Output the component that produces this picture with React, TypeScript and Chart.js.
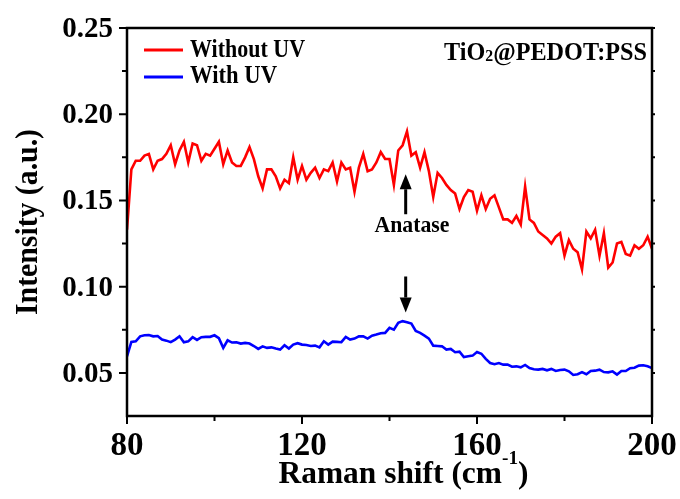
import React, { useEffect, useRef } from "react";
import { Chart, registerables } from "chart.js";

Chart.register(...registerables);

const ramanShift = [
  80, 81, 82, 83, 84, 85, 86, 87, 88, 89, 90, 91, 92, 93, 94, 95, 96, 97, 98, 99,
  100, 101, 102, 103, 104, 105, 106, 107, 108, 109, 110, 111, 112, 113, 114, 115, 116, 117, 118, 119,
  120, 121, 122, 123, 124, 125, 126, 127, 128, 129, 130, 131, 132, 133, 134, 135, 136, 137, 138, 139,
  140, 141, 142, 143, 144, 145, 146, 147, 148, 149, 150, 151, 152, 153, 154, 155, 156, 157, 158, 159,
  160, 161, 162, 163, 164, 165, 166, 167, 168, 169, 170, 171, 172, 173, 174, 175, 176, 177, 178, 179,
  180, 181, 182, 183, 184, 185, 186, 187, 188, 189, 190, 191, 192, 193, 194, 195, 196, 197, 198, 199,
  200,
];

const withoutUV = [
  0.133, 0.168, 0.173, 0.173, 0.176, 0.177, 0.168, 0.173, 0.174, 0.177,
  0.182, 0.171, 0.179, 0.184, 0.172, 0.183, 0.182, 0.173, 0.177, 0.176,
  0.180, 0.184, 0.171, 0.179, 0.172, 0.170, 0.170, 0.175, 0.181, 0.174,
  0.164, 0.157, 0.168, 0.168, 0.164, 0.157, 0.162, 0.160, 0.175, 0.162,
  0.170, 0.162, 0.166, 0.169, 0.163, 0.168, 0.167, 0.172, 0.161, 0.172,
  0.168, 0.169, 0.155, 0.169, 0.177, 0.167, 0.168, 0.172, 0.178, 0.174,
  0.174, 0.159, 0.179, 0.182, 0.190, 0.176, 0.178, 0.169, 0.178, 0.167,
  0.152, 0.166, 0.163, 0.159, 0.156, 0.154, 0.145, 0.152, 0.156, 0.155,
  0.144, 0.153, 0.145, 0.151, 0.153, 0.146, 0.139, 0.139, 0.137, 0.141,
  0.136, 0.158, 0.139, 0.137, 0.132, 0.130, 0.128, 0.125, 0.129, 0.131,
  0.118, 0.127, 0.122, 0.120, 0.110, 0.132, 0.128, 0.133, 0.118, 0.131,
  0.111, 0.114, 0.125, 0.126, 0.119, 0.118, 0.124, 0.122, 0.124, 0.129,
  0.122,
];

const withUV = [
  0.0596, 0.0680, 0.0683, 0.0712, 0.0718, 0.0720, 0.0712, 0.0714, 0.0693, 0.0687,
  0.0678, 0.0693, 0.0712, 0.0678, 0.0683, 0.0707, 0.0691, 0.0707, 0.0709, 0.0709,
  0.0718, 0.0701, 0.0645, 0.0689, 0.0676, 0.0678, 0.0670, 0.0674, 0.0670, 0.0656,
  0.0639, 0.0654, 0.0645, 0.0648, 0.0641, 0.0635, 0.0660, 0.0641, 0.0664, 0.0672,
  0.0664, 0.0662, 0.0656, 0.0658, 0.0648, 0.0683, 0.0664, 0.0681, 0.0680, 0.0678,
  0.0709, 0.0693, 0.0699, 0.0712, 0.0712, 0.0699, 0.0716, 0.0722, 0.0730, 0.0732,
  0.0761, 0.0751, 0.0790, 0.0800, 0.0794, 0.0786, 0.0743, 0.0732, 0.0716, 0.0699,
  0.0658, 0.0656, 0.0654, 0.0635, 0.0639, 0.0620, 0.0623, 0.0592, 0.0596, 0.0600,
  0.0621, 0.0611, 0.0581, 0.0557, 0.0550, 0.0557, 0.0548, 0.0548, 0.0536, 0.0538,
  0.0532, 0.0546, 0.0528, 0.0521, 0.0519, 0.0523, 0.0515, 0.0523, 0.0511, 0.0517,
  0.0519, 0.0509, 0.0488, 0.0492, 0.0504, 0.0492, 0.0511, 0.0513, 0.0519, 0.0505,
  0.0503, 0.0509, 0.0490, 0.0511, 0.0511, 0.0527, 0.0530, 0.0542, 0.0544, 0.0538,
  0.0528,
];

const xMajorTicks = [80, 120, 160, 200];
const xMinorTicks = [100, 140, 180];
const yMajorTicks = [0.05, 0.1, 0.15, 0.2, 0.25];
const yMinorTicks = [0.075, 0.125, 0.175, 0.225];
const yTickLabels = ["0.05", "0.10", "0.15", "0.20", "0.25"];
const seriesNames = ["Without UV", "With UV"];
const seriesColors = ["#ff0000", "#0000ff"];

const SERIF = '"Liberation Serif", "Times New Roman", serif';

type Part = { text: string; size: number; dy?: number };

function drawParts(
  ctx: CanvasRenderingContext2D,
  parts: Part[],
  x: number,
  y: number,
  targetWidth: number | null,
  align: "left" | "center" | "right"
) {
  ctx.save();
  ctx.textBaseline = "alphabetic";
  ctx.textAlign = "left";
  let natural = 0;
  const widths = parts.map((p) => {
    ctx.font = `bold ${p.size}px ${SERIF}`;
    const w = ctx.measureText(p.text).width;
    natural += w;
    return w;
  });
  const s = targetWidth ? targetWidth / natural : 1;
  const total = natural * s;
  let start = x;
  if (align === "center") start = x - total / 2;
  if (align === "right") start = x - total;
  ctx.translate(start, y);
  ctx.scale(s, 1);
  let cx = 0;
  parts.forEach((p, i) => {
    ctx.font = `bold ${p.size}px ${SERIF}`;
    ctx.fillText(p.text, cx, p.dy || 0);
    cx += widths[i];
  });
  ctx.restore();
}

function drawArrow(
  ctx: CanvasRenderingContext2D,
  x: number,
  yTail: number,
  yTip: number
) {
  const dir = yTip < yTail ? -1 : 1;
  const head = 15;
  ctx.save();
  ctx.strokeStyle = "#000";
  ctx.fillStyle = "#000";
  ctx.lineWidth = 3;
  ctx.beginPath();
  ctx.moveTo(x, yTail);
  ctx.lineTo(x, yTip - dir * head);
  ctx.stroke();
  ctx.beginPath();
  ctx.moveTo(x, yTip);
  ctx.lineTo(x - 6, yTip - dir * head);
  ctx.lineTo(x + 6, yTip - dir * head);
  ctx.closePath();
  ctx.fill();
  ctx.restore();
}

const decorPlugin = {
  id: "decor",
  afterDraw(chart: any) {
    const ctx: CanvasRenderingContext2D = chart.ctx;
    const { left, right, top, bottom } = chart.chartArea;
    const xs = chart.scales.x;
    const ys = chart.scales.y;
    ctx.save();
    // frame
    ctx.strokeStyle = "#000";
    ctx.lineWidth = 2.5;
    ctx.strokeRect(left, top, right - left, bottom - top);
    // ticks
    ctx.lineWidth = 2;
    ctx.beginPath();
    yMajorTicks.forEach((v) => {
      const py = ys.getPixelForValue(v);
      ctx.moveTo(left - 8, py);
      ctx.lineTo(left, py);
      ctx.moveTo(right, py);
      ctx.lineTo(right + 3, py);
    });
    yMinorTicks.forEach((v) => {
      const py = ys.getPixelForValue(v);
      ctx.moveTo(left - 5, py);
      ctx.lineTo(left, py);
      ctx.moveTo(right, py);
      ctx.lineTo(right + 3, py);
    });
    xMajorTicks.forEach((v) => {
      const px = xs.getPixelForValue(v);
      ctx.moveTo(px, bottom);
      ctx.lineTo(px, bottom + 8);
    });
    xMinorTicks.forEach((v) => {
      const px = xs.getPixelForValue(v);
      ctx.moveTo(px, bottom);
      ctx.lineTo(px, bottom + 5);
    });
    ctx.stroke();

    ctx.fillStyle = "#000";
    // y tick labels
    yMajorTicks.forEach((v, i) => {
      const py = ys.getPixelForValue(v);
      drawParts(ctx, [{ text: yTickLabels[i], size: 29 }], left - 14, py + 9, null, "right");
    });
    // x tick labels
    xMajorTicks.forEach((v) => {
      const px = xs.getPixelForValue(v);
      drawParts(ctx, [{ text: String(v), size: 33 }], px, bottom + 39, null, "center");
    });
    // x title
    drawParts(
      ctx,
      [
        { text: "Raman shift (cm", size: 31 },
        { text: "-1", size: 19, dy: -19 },
        { text: ")", size: 31 },
      ],
      (left + right) / 2 + 14,
      483,
      250,
      "center"
    );
    // y title
    ctx.save();
    ctx.translate(37, 222);
    ctx.rotate(-Math.PI / 2);
    drawParts(ctx, [{ text: "Intensity (a.u.)", size: 32 }], 0, 0, 186, "center");
    ctx.restore();

    // legend
    const legendY = [50, 77];
    const legendBase = [57, 83];
    const legendW = [115, 87];
    seriesNames.forEach((name, i) => {
      ctx.strokeStyle = seriesColors[i];
      ctx.lineWidth = 3;
      ctx.beginPath();
      ctx.moveTo(144, legendY[i]);
      ctx.lineTo(183, legendY[i]);
      ctx.stroke();
      ctx.fillStyle = "#000";
      drawParts(ctx, [{ text: name, size: 25 }], 190, legendBase[i], legendW[i], "left");
    });

    // sample label
    drawParts(
      ctx,
      [
        { text: "TiO", size: 26 },
        { text: "2", size: 17, dy: 1 },
        { text: "@PEDOT:PSS", size: 26 },
      ],
      647,
      60,
      203,
      "right"
    );

    // annotations
    const ax = xs.getPixelForValue(143.7);
    drawArrow(ctx, ax, ys.getPixelForValue(0.142), ys.getPixelForValue(0.1652));
    drawArrow(ctx, ax, ys.getPixelForValue(0.1059), ys.getPixelForValue(0.085));
    drawParts(ctx, [{ text: "Anatase", size: 23 }], 412, 232, 75, "center");
    ctx.restore();
  },
};

export default function App() {
  const ref = useRef<HTMLCanvasElement | null>(null);
  useEffect(() => {
    if (!ref.current) return;
    const chart = new Chart(ref.current, {
      type: "line",
      data: {
        datasets: [
          {
            label: seriesNames[0],
            data: ramanShift.map((x, i) => ({ x, y: withoutUV[i] })),
            borderColor: seriesColors[0],
            borderWidth: 2.6,
            pointRadius: 0,
            tension: 0,
            fill: false,
          },
          {
            label: seriesNames[1],
            data: ramanShift.map((x, i) => ({ x, y: withUV[i] })),
            borderColor: seriesColors[1],
            borderWidth: 2.6,
            pointRadius: 0,
            tension: 0,
            fill: false,
          },
        ],
      },
      options: {
        responsive: false,
        animation: false,
        layout: { padding: { left: 127, right: 28, top: 28, bottom: 83 } },
        plugins: { legend: { display: false }, tooltip: { enabled: false } },
        scales: {
          x: { type: "linear", min: 80, max: 200, display: false },
          y: { type: "linear", min: 0.025, max: 0.25, display: false },
        },
      },
      plugins: [decorPlugin],
    });
    return () => chart.destroy();
  }, []);
  return (
    <div style={{ position: "fixed", left: 0, top: 0, width: 680, height: 499, background: "#fff" }}>
      <canvas ref={ref} width={680} height={499} />
    </div>
  );
}
